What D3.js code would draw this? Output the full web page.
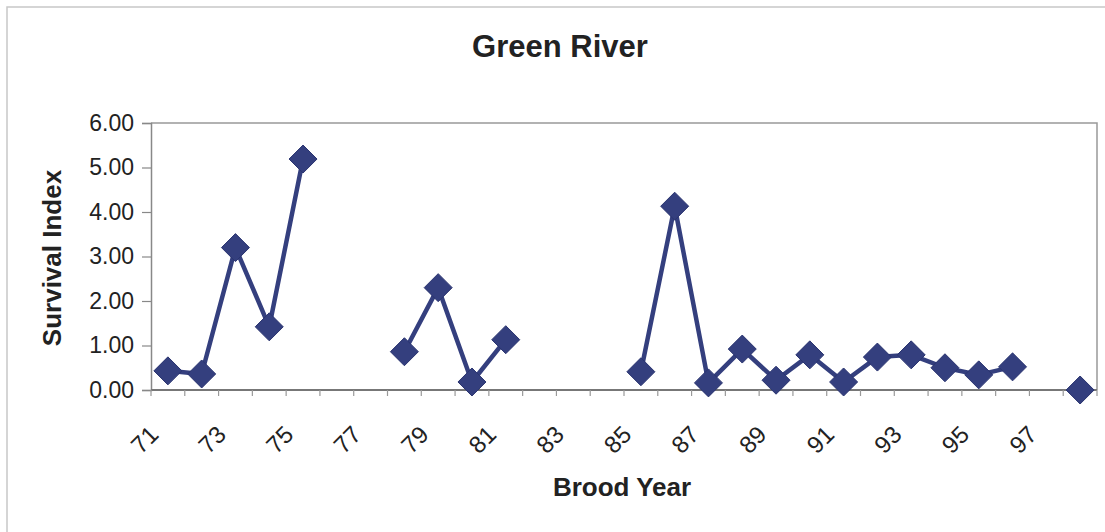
<!DOCTYPE html>
<html>
<head>
<meta charset="utf-8">
<script src="https://cdn.jsdelivr.net/npm/d3@7"></script>
<style>
  body { margin: 0; background: #fff; }
  svg { display: block; font-family: Arial, "Liberation Sans", sans-serif; }
</style>
</head>
<body>
<svg id="chart"></svg>
<script>
// brood years (category axis), every other one labelled
const years = d3.range(71, 99);
const yearLabels = [71, 73, 75, 77, 79, 81, 83, 85, 87, 89, 91, 93, 95, 97];
// survival index per brood year, null where there is no value
const survival = [0.43, 0.36, 3.20, 1.42, 5.19, null, null, 0.86, 2.30, 0.18,
                  1.13, null, null, null, 0.41, 4.13, 0.16, 0.92, 0.22, 0.79,
                  0.18, 0.74, 0.79, 0.50, 0.34, 0.52, null, 0.00];
const yTicks = [0, 1, 2, 3, 4, 5, 6];

const width = 1105, height = 532;
const margin = { top: 123, right: 8, bottom: 142, left: 151 };
const lineColor = "#343f7e";

const svg = d3.select("#chart").attr("width", width).attr("height", height);

// outer chart border (only top and left edges show in the scan)
svg.append("path")
  .attr("d", `M7,${height} V7 H${width}`)
  .attr("fill", "none").attr("stroke", "#c8c8c8").attr("stroke-width", 1.5);

const x = d3.scaleBand()
  .domain(years)
  .range([margin.left, width - margin.right]);
const y = d3.scaleLinear()
  .domain([0, 6])
  .range([height - margin.bottom, margin.top]);

const x0 = margin.left, x1 = width - margin.right;
const yb = y(0), yt = y(6);

// plot frame
svg.append("path")
  .attr("d", `M${x0},${yt} H${x1} V${yb}`)
  .attr("fill", "none").attr("stroke", "#999").attr("stroke-width", 1.5);

// y axis
const yAxis = svg.append("g")
  .attr("transform", `translate(${x0},0)`)
  .call(d3.axisLeft(y).tickValues(yTicks).tickFormat(d3.format(".2f")).tickSize(9).tickPadding(8));
yAxis.select(".domain").attr("stroke", "#888").attr("stroke-width", 1.5);
yAxis.selectAll(".tick line").attr("stroke", "#888").attr("stroke-width", 1.2);
yAxis.selectAll("text").attr("font-size", 23).attr("fill", "#222").attr("font-family", null);

// x axis: ticks sit between categories
const xAxis = svg.append("g");
xAxis.append("line")
  .attr("x1", x0).attr("x2", x1).attr("y1", yb).attr("y2", yb)
  .attr("stroke", "#777").attr("stroke-width", 2);
xAxis.selectAll(".xtick")
  .data(years.concat([99]))
  .join("line")
  .attr("x1", (d, i) => x0 + i * x.bandwidth())
  .attr("x2", (d, i) => x0 + i * x.bandwidth())
  .attr("y1", yb).attr("y2", yb + 6)
  .attr("stroke", "#999").attr("stroke-width", 1.2);
xAxis.selectAll(".xlabel")
  .data(yearLabels)
  .join("text")
  .attr("transform", d => `translate(${x(d) + x.bandwidth() / 2 - 8},${yb + 46}) rotate(-45)`)
  .attr("text-anchor", "end")
  .attr("font-size", 24)
  .attr("fill", "#222")
  .text(d => d);

// series line with gaps
const pts = years.map((yr, i) => ({ year: yr, value: survival[i] }));
const line = d3.line()
  .defined(d => d.value !== null)
  .x(d => x(d.year) + x.bandwidth() / 2)
  .y(d => y(d.value));
svg.append("path")
  .datum(pts)
  .attr("fill", "none")
  .attr("stroke", lineColor)
  .attr("stroke-width", 4.5)
  .attr("stroke-linejoin", "round")
  .attr("d", line);

// diamond markers
svg.selectAll(".marker")
  .data(pts.filter(d => d.value !== null))
  .join("path")
  .attr("d", "M0,-14 L14,0 L0,14 L-14,0 Z")
  .attr("transform", d => `translate(${x(d.year) + x.bandwidth() / 2},${y(d.value)})`)
  .attr("fill", lineColor)
  .attr("stroke", "#2a3470")
  .attr("stroke-width", 1);

// titles
svg.append("text")
  .attr("x", 560).attr("y", 57)
  .attr("text-anchor", "middle")
  .attr("font-size", 31).attr("font-weight", "bold").attr("fill", "#222")
  .text("Green River");
svg.append("text")
  .attr("x", 622).attr("y", 496)
  .attr("text-anchor", "middle")
  .attr("font-size", 26).attr("font-weight", "bold").attr("fill", "#222")
  .text("Brood Year");
svg.append("text")
  .attr("transform", `translate(61,258) rotate(-90)`)
  .attr("text-anchor", "middle")
  .attr("font-size", 26).attr("font-weight", "bold").attr("fill", "#222")
  .text("Survival Index");
</script>
</body>
</html>
